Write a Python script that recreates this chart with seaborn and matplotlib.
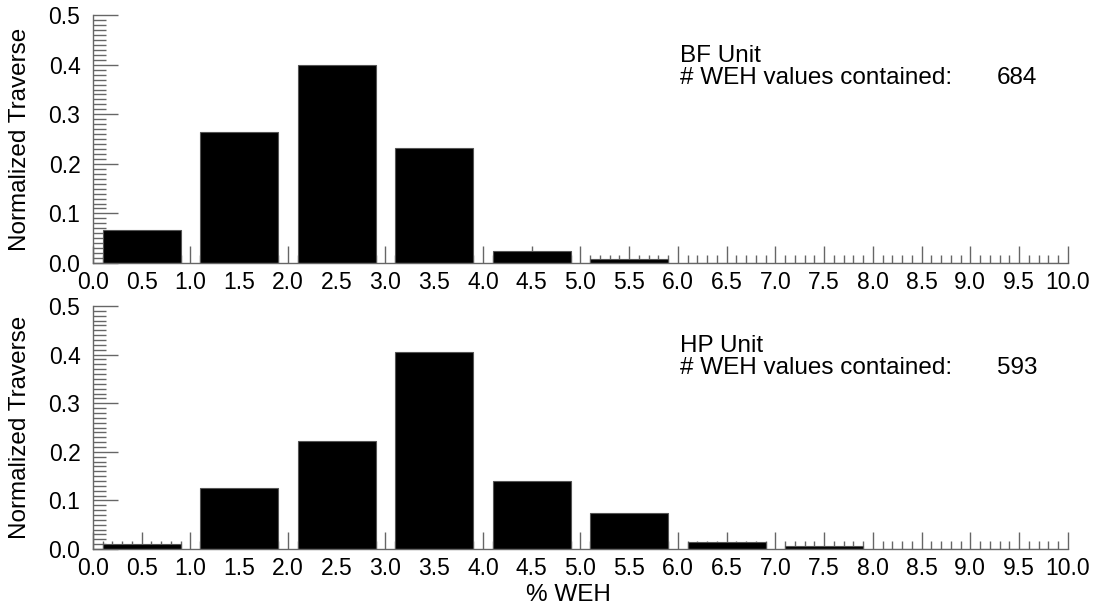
import numpy as np
import pandas as pd
import matplotlib
matplotlib.use("Agg")
import matplotlib.pyplot as plt
from matplotlib.ticker import MultipleLocator, FormatStrFormatter
import seaborn as sns

# bin centres (% WEH) and normalized traverse per unit
bin_centers = [0.5, 1.5, 2.5, 3.5, 4.5, 5.5, 6.5, 7.5, 8.5, 9.5]
bf_values = [0.067, 0.264, 0.399, 0.233, 0.024, 0.008, 0.0, 0.0, 0.0, 0.0]
hp_values = [0.011, 0.126, 0.222, 0.405, 0.140, 0.074, 0.014, 0.006, 0.0, 0.0]
units = ["BF Unit", "HP Unit"]
counts = [684, 593]

sns.set_style("ticks")
plt.rcParams['font.family'] = ['Liberation Sans', 'DejaVu Sans']
plt.rcParams['text.color'] = 'black'
plt.rcParams['axes.labelcolor'] = 'black'
plt.rcParams['xtick.labelcolor'] = 'black'
plt.rcParams['ytick.labelcolor'] = 'black'

fig = plt.figure(figsize=(10.99, 6.06), dpi=100)
ax_top = fig.add_axes([0.0846, 0.566, 0.887, 0.409])
ax_bot = fig.add_axes([0.0846, 0.094, 0.887, 0.401])

axis_col = "#666666"

for ax, vals, unit, n in zip([ax_top, ax_bot], [bf_values, hp_values], units, counts):
    df = pd.DataFrame({"weh": bin_centers, "trav": vals})
    sns.barplot(data=df, x="weh", y="trav", native_scale=True, width=0.8,
                color="black", edgecolor="#555555", linewidth=0.8,
                saturation=1, ax=ax)
    ax.set_xlim(0, 10)
    ax.set_ylim(0, 0.5)
    ax.xaxis.set_major_locator(MultipleLocator(0.5))
    ax.xaxis.set_minor_locator(MultipleLocator(0.1))
    ax.yaxis.set_major_locator(MultipleLocator(0.1))
    ax.yaxis.set_minor_locator(MultipleLocator(0.01))
    ax.xaxis.set_major_formatter(FormatStrFormatter("%.1f"))
    ax.yaxis.set_major_formatter(FormatStrFormatter("%.1f"))
    ax.tick_params(axis="x", which="major", direction="in", length=12, width=1,
                   color=axis_col, labelsize=16.5, pad=6, labelcolor="black")
    ax.tick_params(axis="x", which="minor", direction="in", length=6, width=1,
                   color=axis_col)
    ax.tick_params(axis="y", which="major", direction="in", length=18, width=1,
                   color=axis_col, labelsize=16.5, pad=9, labelcolor="black")
    ax.tick_params(axis="y", which="minor", direction="in", length=9, width=1,
                   color=axis_col)
    sns.despine(ax=ax)
    for s in ["left", "bottom"]:
        ax.spines[s].set_color(axis_col)
        ax.spines[s].set_linewidth(1)
    ax.set_ylabel("Normalized Traverse", fontsize=17.5, color="black")
    ax.yaxis.set_label_coords(-0.064, 0.5)
    ax.set_xlabel("")
    ax.text(0.602, 0.79, unit + "\n# WEH values contained:", transform=ax.transAxes,
            fontsize=17.5, va="center", linespacing=1.0, color="black")
    ax.text(0.927, 0.745, str(n), transform=ax.transAxes, fontsize=17.5,
            va="center", color="black")

ax_bot.set_xlabel("% WEH", fontsize=17.5, color="black")
ax_bot.xaxis.set_label_coords(0.488, -0.145)

fig.savefig("out.png", dpi=100)
